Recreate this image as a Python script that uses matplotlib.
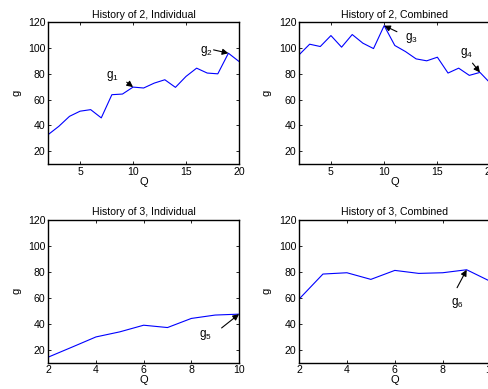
import matplotlib
matplotlib.use('Agg')
import matplotlib.pyplot as plt
import numpy as np

plt.rcParams['font.family'] = ['Liberation Sans', 'DejaVu Sans']
plt.rcParams['mathtext.default'] = 'regular'

# data
q2 = list(range(2, 21))
g2_ind = [32.9, 39.3, 47.0, 51.0, 52.2, 45.8, 63.8, 64.3, 69.7, 69.0,
          72.8, 75.4, 69.5, 78.0, 84.4, 80.6, 80.0, 96.0, 89.6]
g2_comb = [94.7, 103.0, 101.2, 109.7, 100.7, 110.5, 103.8, 99.6, 117.4, 102.0,
           97.3, 91.6, 90.1, 92.9, 80.6, 84.4, 78.8, 81.1, 72.5]
q3 = list(range(2, 11))
g3_ind = [14.3, 22.0, 29.8, 33.7, 38.8, 37.0, 44.0, 46.6, 47.3]
g3_comb = [58.8, 78.1, 79.1, 74.0, 80.9, 78.6, 79.1, 81.4, 72.4]

titles = ['History of 2, Individual', 'History of 2, Combined',
          'History of 3, Individual', 'History of 3, Combined']

# (label, point index, text pos, arrow tail)
notes = [
    [('g$_1$', 8, (8.1, 78.5), (9.4, 73.5)), ('g$_2$', 17, (16.9, 97.8), (17.6, 98.6))],
    [('g$_3$', 8, (12.6, 107.9), (11.2, 112.7)), ('g$_4$', 17, (17.7, 96.3), (18.3, 88.3))],
    [('g$_5$', 8, (8.6, 31.1), (9.27, 36.7))],
    [('g$_6$', 7, (8.6, 55.8), (8.6, 67.6))],
]

fig = plt.figure(figsize=(4.89, 3.89), dpi=100)
W, H = 489.0, 389.0
boxes = [(48.3, 22.3, 239.0, 164.0), (299.0, 22.3, 490.6, 164.0),
         (48.3, 219.5, 239.0, 362.7), (299.0, 219.5, 490.6, 362.7)]
xs = [q2, q2, q3, q3]
ys = [g2_ind, g2_comb, g3_ind, g3_comb]

for k in range(4):
    x0, y0, x1, y1 = boxes[k]
    ax = fig.add_axes([x0 / W, 1 - y1 / H, (x1 - x0) / W, (y1 - y0) / H])
    ax.plot(xs[k], ys[k], color='#0000ff', lw=0.8)
    ax.set_xlim(xs[k][0], xs[k][-1])
    ax.set_ylim(10, 120)
    ax.set_yticks([20, 40, 60, 80, 100, 120])
    if k < 2:
        ax.set_xticks([5, 10, 15, 20])
    else:
        ax.set_xticks([2, 4, 6, 8, 10])
    ax.tick_params(direction='in', top=True, right=True, labelsize=7.6,
                   length=2.5, width=0.6, pad=2)
    for s in ax.spines.values():
        s.set_linewidth(1.0)
    ax.set_title(titles[k], fontsize=7.6, pad=3)
    ax.set_xlabel('Q', fontsize=8, labelpad=0)
    ax.set_ylabel('g', fontsize=8, labelpad=5)

    for lab, i, tpos, tail in notes[k]:
        pt = (xs[k][i], ys[k][i])
        ax.annotate('', xy=pt, xytext=tail,
                    arrowprops=dict(arrowstyle='-|>', color='k', lw=0.8,
                                    mutation_scale=9, shrinkA=0, shrinkB=0))
        ax.text(tpos[0], tpos[1], lab, fontsize=8.5, ha='center', va='center')

fig.savefig('out.png', dpi=100)
